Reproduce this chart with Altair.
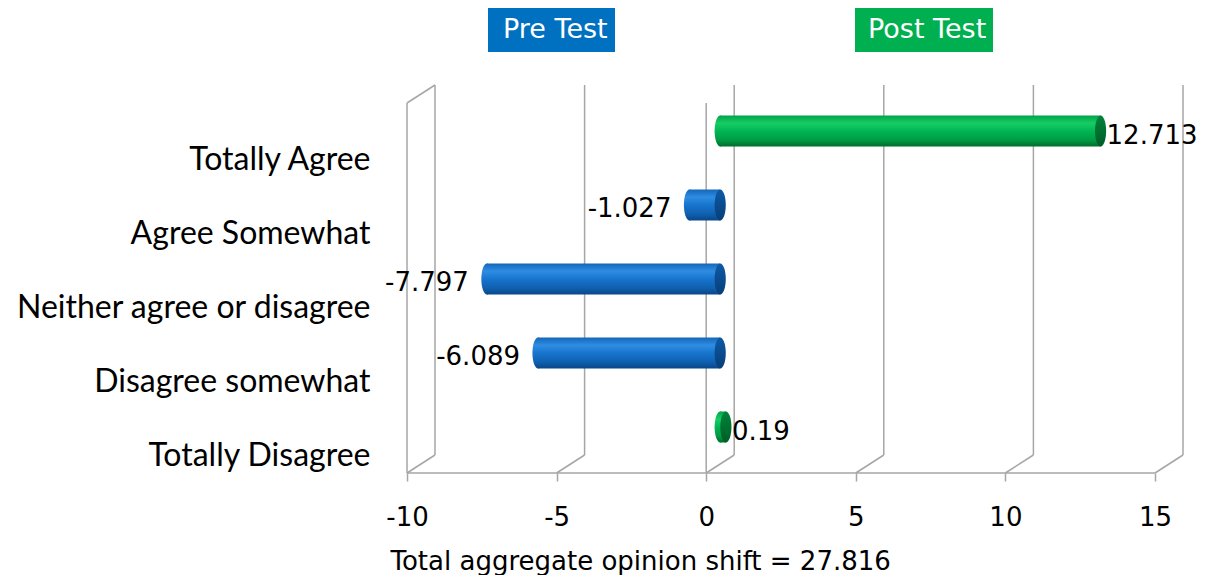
import altair as alt
import pandas as pd

# ---------------- data ----------------
CATEGORIES = ["Totally Agree", "Agree Somewhat", "Neither agree or disagree",
              "Disagree somewhat", "Totally Disagree"]
SERIES = ["Post Test", "Pre Test", "Pre Test", "Pre Test", "Post Test"]
VALUES = [12.713, -1.027, -7.797, -6.089, 0.19]
VALUE_LABELS = ["12.713", "-1.027", "-7.797", "-6.089", "0.19"]
TICKS = [-10, -5, 0, 5, 10, 15]
LEGEND_NAMES = ["Pre Test", "Post Test"]
X_TITLE = "Total aggregate opinion shift = 27.816"

# ---------------- layout / style ----------------
PLOT_W, PLOT_H = 776, 388
FRONT_W = 748
X_MIN, X_MAX = -10, 15
PX = FRONT_W / (X_MAX - X_MIN)
DX, DY = 28, 18            # depth of the 3-D box
FRONT_TOP = DY
GRID = "#A6A6A6"
FONT = "DejaVu Sans"
CAT_FONT = "Lato"

ELL_A = 0.36
K = 0.5523
a, ak = ELL_A, ELL_A * K
ELLIPSE = (f"M0,-1C{ak},-1 {a},-{K} {a},0C{a},{K} {ak},1 0,1"
           f"C-{ak},1 -{a},{K} -{a},0C-{a},-{K} -{ak},-1 0,-1Z")
BAR_T = 31


def grad(stops):
    return alt.LinearGradient(
        gradient="linear", x1=0, x2=0, y1=0, y2=1,
        stops=[alt.GradientStop(color=c, offset=o) for o, c in stops])


BODY = {
    "Pre Test": grad([(0, "#1467BA"), (0.25, "#2E8DE2"), (0.5, "#1775CE"),
                      (0.8, "#0F5FAF"), (1, "#0A4685")]),
    "Post Test": grad([(0, "#00A349"), (0.25, "#17CE64"), (0.5, "#00B654"),
                       (0.8, "#009A43"), (1, "#006C2C")]),
}
CAP = {
    "Pre Test": grad([(0, "#0D5AA6"), (1, "#083E78")]),
    "Post Test": grad([(0, "#00833A"), (1, "#005E27")]),
}
BOX = {"Pre Test": "#0070C0", "Post Test": "#00B050"}

bars = pd.DataFrame({
    "category": CATEGORIES, "series": SERIES, "value": VALUES,
    "label": VALUE_LABELS,
})
bars["lo"] = bars["value"].clip(upper=0)
bars["hi"] = bars["value"].clip(lower=0)
ticks = pd.DataFrame({"tick": TICKS})
frame = pd.DataFrame({"lo": [X_MIN], "hi": [X_MAX], "zero": [0]})

xscale = alt.Scale(domain=[X_MIN, X_MAX + DX / PX], nice=False, zero=False)
step = (PLOT_H - FRONT_TOP) / len(CATEGORIES)
y0 = FRONT_TOP - DY / 2
yscale = alt.Scale(domain=CATEGORIES, range=[y0, y0 + step * len(CATEGORIES)],
                   paddingInner=0, paddingOuter=0)


def X(f, axis=alt.Undefined):
    return alt.X(f"{f}:Q", scale=xscale, axis=axis)


def Y(axis=alt.Undefined):
    return alt.Y("category:N", sort=CATEGORIES, scale=yscale, axis=axis)


x_axis = alt.Axis(
    values=TICKS, grid=False, domain=False, ticks=True, tickSize=8,
    tickColor=GRID, tickWidth=1.5, labelFont=FONT, labelFontSize=26,
    labelExpr="'' + datum.value",
    labelColor="#000000", labelBaseline="alphabetic", labelPadding=44,
    labelFlush=False, labelOverlap=False, title=X_TITLE, titleFont=FONT,
    titleFontSize=26, titleFontWeight="normal", titleColor="#000000",
    titleX=-17, titleY=96, titleAlign="left", titleBaseline="alphabetic",
    titleAnchor="start")

y_axis = alt.Axis(
    title=None, domain=False, ticks=False, labelPadding=37, labelFont=CAT_FONT,
    labelFontSize=32, labelColor="#000000", labelOffset=29, labelLimit=0,
    labelBaseline="middle", labelAlign="right")

rule = dict(color=GRID, strokeWidth=1.5)

back_grid = alt.Chart(ticks).mark_rule(xOffset=DX, **rule).encode(
    x=X("tick", x_axis), y=alt.value(0), y2=alt.value(PLOT_H - DY))
floor_slants = alt.Chart(ticks).mark_rule(x2Offset=DX, **rule).encode(
    x=X("tick"), x2=alt.X2("tick"), y=alt.value(PLOT_H), y2=alt.value(PLOT_H - DY))
left_front = alt.Chart(frame).mark_rule(**rule).encode(
    x=X("lo"), y=alt.value(FRONT_TOP), y2=alt.value(PLOT_H))
left_top = alt.Chart(frame).mark_rule(x2Offset=DX, **rule).encode(
    x=X("lo"), x2=alt.X2("lo"), y=alt.value(FRONT_TOP), y2=alt.value(0))
zero_line = alt.Chart(frame).mark_rule(**rule).encode(
    x=X("zero"), y=alt.value(FRONT_TOP), y2=alt.value(PLOT_H))
floor_line = alt.Chart(frame).mark_rule(**rule).encode(
    x=X("lo"), x2=alt.X2("hi"), y=alt.value(PLOT_H))

layers = [back_grid, floor_slants, left_front, left_top, zero_line, floor_line]

first = True
for s in ["Pre Test", "Post Test"]:
    src = alt.Chart(bars).transform_filter(alt.datum.series == s)
    back_end = src.mark_point(shape=ELLIPSE, size=BAR_T * BAR_T, filled=True,
                              fill=BODY[s], strokeOpacity=0, opacity=1,
                              xOffset=DX / 2).encode(x=X("lo"), y=Y())
    body = src.mark_bar(size=BAR_T, fill=BODY[s], xOffset=DX / 2,
                        x2Offset=DX / 2).encode(
        x=X("lo"), x2=alt.X2("hi"), y=Y(y_axis if first else alt.Undefined))
    cap = src.mark_point(shape=ELLIPSE, size=BAR_T * BAR_T, filled=True,
                         fill=CAP[s], strokeOpacity=0, opacity=1,
                         xOffset=DX / 2).encode(x=X("hi"), y=Y())
    layers += [back_end, body, cap]
    first = False

pos_labels = alt.Chart(bars).transform_filter(alt.datum.value >= 0).mark_text(
    font=FONT, fontSize=26, align="left", baseline="middle", color="#000000",
    xOffset=DX / 2 + 6, yOffset=5).encode(x=X("value"), y=Y(), text="label:N")
neg_labels = alt.Chart(bars).transform_filter(alt.datum.value < 0).mark_text(
    font=FONT, fontSize=26, align="right", baseline="middle", color="#000000",
    xOffset=DX / 2 - 18, yOffset=4).encode(x=X("value"), y=Y(), text="label:N")
layers += [pos_labels, neg_labels]

# legend boxes (Excel-style text boxes above the chart)
BOX_POS = {"Pre Test": (81, 208, 96), "Post Test": (448, 586, 461)}
for name in LEGEND_NAMES:
    x1, x2, tx = BOX_POS[name]
    ldf = pd.DataFrame({"name": [name]})
    layers.append(alt.Chart(ldf).mark_rect(color=BOX[name]).encode(
        x=alt.value(x1), x2=alt.value(x2), y=alt.value(-80), y2=alt.value(-33)))
    layers.append(alt.Chart(ldf).mark_text(
        font=FONT, fontSize=27, color="#FFFFFF", align="left",
        baseline="alphabetic").encode(
        x=alt.value(tx), y=alt.value(-47), text="name:N"))

chart = alt.layer(*layers).properties(
    width=PLOT_W, height=PLOT_H,
    padding={"left": 399, "top": 77, "right": 17, "bottom": 102},
    autosize=alt.AutoSizeParams(type="none"),
    background="#FFFFFF",
).configure_view(stroke=None)

chart.save("out.html", embed_options={"renderer": "svg", "actions": False})
